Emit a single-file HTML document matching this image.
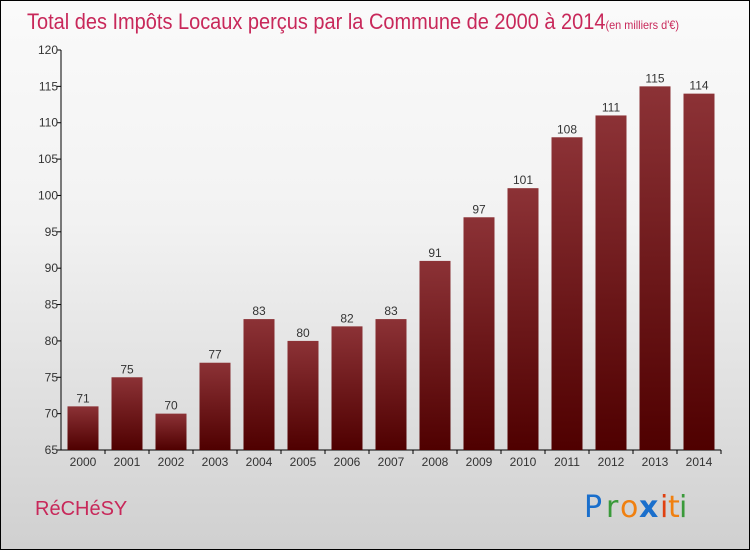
<!DOCTYPE html>
<html><head><meta charset="utf-8"><style>
body{margin:0}
#wrap{position:relative;width:748px;height:548px;border:1px solid #000;background:linear-gradient(#fafafa 0%,#f2f2f2 40%,#d0d0d0 100%);font-family:"Liberation Sans",sans-serif;overflow:hidden}
</style></head><body>
<div id="wrap">
<svg width="748" height="548">
<defs><linearGradient id="bg" x1="0" y1="0" x2="0" y2="1"><stop offset="0" stop-color="#8c3236"/><stop offset="1" stop-color="#4f0000"/></linearGradient></defs>
<text x="26" y="28" font-size="22" fill="#c8285a" textLength="652" lengthAdjust="spacingAndGlyphs">Total des Impôts Locaux perçus par la Commune de 2000 à 2014<tspan font-size="12">(en milliers d'€)</tspan></text>
<g id="axes"></g>
<g id="bars"></g>
<text x="34" y="514" font-size="20" fill="#c8285a">RéCHéSY</text>
<g font-size="30" font-family="'DejaVu Sans',sans-serif">
<text x="583" y="516" fill="#1a6fcc">P</text><text x="605" y="516" fill="#3a9a3a">r</text><text x="619" y="516" fill="#f08010">o</text><text x="638" y="516" fill="#1a6fcc" font-weight="bold">x</text><text x="659" y="516" fill="#e04010">i</text><text x="667" y="516" fill="#f08010">t</text><text x="678" y="516" fill="#3a9a3a">i</text>
</g>
</svg>
</div>
<script>
const years=["2000","2001","2002","2003","2004","2005","2006","2007","2008","2009","2010","2011","2012","2013","2014"];
const values=[71,75,70,77,83,80,82,83,91,97,101,108,111,115,114];
const ticks=[65,70,75,80,85,90,95,100,105,110,115,120];
const NS="http://www.w3.org/2000/svg";
const x0=60,x1=720,y0=449,ymin=65,ymax=120,h=400;
const y=v=>y0-(v-ymin)/(ymax-ymin)*h;
const step=(x1-x0)/years.length;
const xc=i=>x0+step*(i+0.5);
function mk(t,a,p){const e=document.createElementNS(NS,t);for(const k in a)e.setAttribute(k,a[k]);p.appendChild(e);return e;}
const ax=document.getElementById('axes'),bg=document.getElementById('bars');
let l=mk('line',{x1:x0,y1:y(ymax),x2:x0,y2:y0,stroke:'#000'},ax);


l=mk('line',{x1:x0,y1:y0,x2:x1,y2:y0,stroke:'#000'},ax);


ticks.forEach(t=>{
 mk('line',{x1:x0-4,y1:y(t),x2:x0,y2:y(t),stroke:'#000'},ax);
 const tx=mk('text',{x:x0-3,y:y(t)+4,'font-size':12,'text-anchor':'end',fill:'#333'},ax);tx.textContent=t;
 
 
});
years.forEach((yr,i)=>{
 const v=values[i],bw=31;
 const r=mk('rect',{x:xc(i)-bw/2,y:y(v),width:bw,height:y0-y(v),fill:'url(#bg)'},bg);
 
 
 const lb=mk('text',{x:xc(i),y:y(v)-4,'font-size':12,'text-anchor':'middle',fill:'#333'},bg);lb.textContent=v;
 
 
 mk('line',{x1:x0+step*(i+1),y1:y0,x2:x0+step*(i+1),y2:y0+4,stroke:'#000'},ax);
 const xt=mk('text',{x:xc(i),y:y0+16,'font-size':12,'text-anchor':'middle',fill:'#333'},ax);xt.textContent=yr;
 
 
});
</script>
</body></html>
